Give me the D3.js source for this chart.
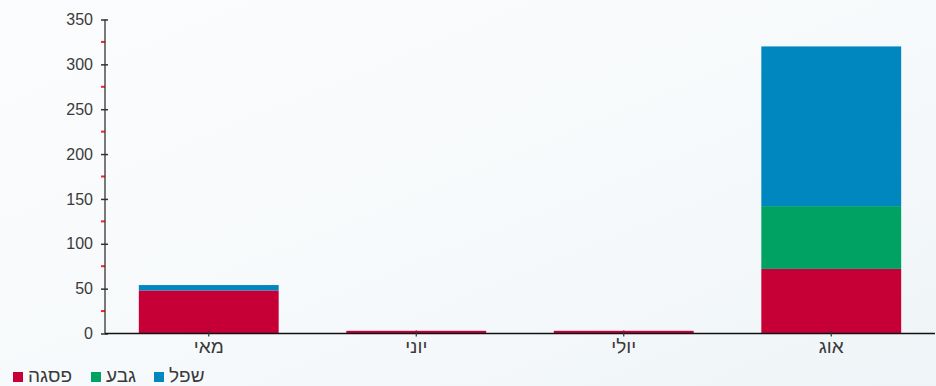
<!DOCTYPE html>
<html><head><meta charset="utf-8">
<script src="https://cdn.jsdelivr.net/npm/d3@7"></script>
<style>
html,body{margin:0;padding:0;}
body{width:936px;height:386px;overflow:hidden;}
svg{display:block;font-family:"Liberation Sans",Arial,sans-serif;}
</style></head>
<body>
<svg id="c" width="936" height="386"></svg>
<script>
const categories = ["מאי", "יוני", "יולי", "אוג"];
const seriesNames = ["פסגה", "גבע", "שפל"];
const seriesKeys = ["peak", "mid", "low"];
const peakValues = [48, 3, 3, 72];
const midValues = [0, 0, 0, 70];
const lowValues = [6, 0, 0, 178];
const yTicks = [0, 50, 100, 150, 200, 250, 300, 350];
const yMinorTicks = [25, 75, 125, 175, 225, 275, 325];
const colors = ["#c60036", "#00a264", "#0087c0"];

const svg = d3.select("#c");
const defs = svg.append("defs");
const grad = defs.append("linearGradient").attr("id","bg").attr("x1","0").attr("y1","0").attr("x2","1").attr("y2","1");
grad.append("stop").attr("offset","0").attr("stop-color","#fbfcfd");
grad.append("stop").attr("offset","0.6").attr("stop-color","#f6f9fb");
grad.append("stop").attr("offset","1").attr("stop-color","#eef4f7");
svg.append("rect").attr("width",936).attr("height",386).attr("fill","url(#bg)");

const table = categories.map((c,i)=>({cat:c, peak:peakValues[i], mid:midValues[i], low:lowValues[i]}));
const stacked = d3.stack().keys(seriesKeys)(table);

const x = d3.scaleBand().domain(categories).range([105, 935]).paddingInner(0.326).paddingOuter(0.163);
const y = d3.scaleLinear().domain([0, 350]).range([333.5, 19.5]);

// bars
svg.append("g").selectAll("g").data(stacked).join("g")
  .attr("fill",(d,i)=>colors[i])
  .selectAll("rect").data(d=>d).join("rect")
  .attr("x", d=>x(d.data.cat))
  .attr("width", x.bandwidth())
  .attr("y", d=>y(d[1]))
  .attr("height", d=>Math.max(0, y(d[0]) - y(d[1])));

// minor ticks
svg.append("g").selectAll("line").data(yMinorTicks).join("line")
  .attr("x1",101).attr("x2",105)
  .attr("y1",d=>y(d)).attr("y2",d=>y(d))
  .attr("stroke","#ff2020").attr("stroke-width",2);

// y axis
const yAxis = d3.axisLeft(y).tickValues(yTicks).tickSize(4).tickPadding(8);
const gy = svg.append("g").attr("transform","translate(105,0)").call(yAxis);
gy.select(".domain").attr("stroke","#333").attr("stroke-width",1.3).attr("d","M0,"+y(350)+"V"+y(0));
gy.selectAll(".tick line").attr("x1",3).attr("x2",-4).attr("stroke","#333").attr("stroke-width",1.5);
gy.selectAll(".tick text").attr("font-size",16).attr("fill","#3a3a3a").attr("font-family","Liberation Sans, Arial, sans-serif");

// x axis
const xAxis = d3.axisBottom(x).tickSize(3).tickPadding(3);
const gx = svg.append("g").attr("transform","translate(0,"+y(0)+")").call(xAxis);
gx.select(".domain").attr("stroke","#111").attr("stroke-width",1.5).attr("d","M105,0H935");
gx.selectAll(".tick line").attr("y1",-3).attr("y2",3).attr("stroke","#333").attr("stroke-width",1.2);
gx.selectAll(".tick text").attr("font-size",19).attr("fill","#3a3a3a").attr("font-family","Liberation Sans, Arial, sans-serif");

// legend
const legendItems = seriesNames.map((n,i)=>({name:n, color:colors[i]}));
const legendX = [13, 91, 154];
const lg = svg.append("g");
const li = lg.selectAll("g").data(legendItems).join("g")
  .attr("transform",(d,i)=>"translate("+legendX[i]+",372)");
li.append("rect").attr("width",10).attr("height",10).attr("fill",d=>d.color);
li.append("text").attr("x",15).attr("y",9.5).attr("font-size",19).attr("fill","#3a3a3a")
  .attr("direction","ltr")
  .text(d=>d.name);
</script>
</body></html>
